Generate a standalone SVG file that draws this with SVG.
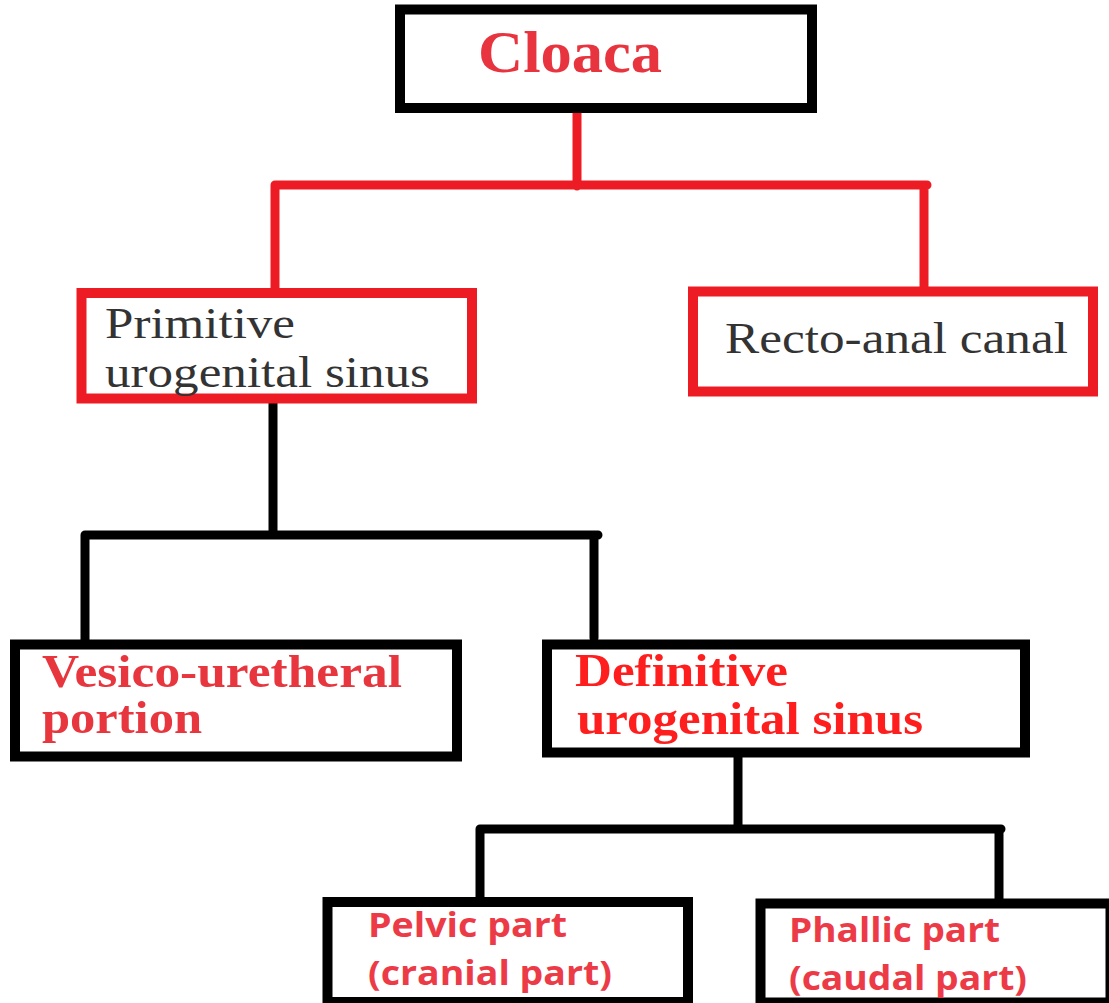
<svg xmlns="http://www.w3.org/2000/svg" width="1109" height="1003" viewBox="0 0 1109 1003">
<style>
.bk{fill:#fff;stroke:#000;stroke-width:10}
.rd{fill:#fff;stroke:#ed1c24;stroke-width:10}
.cr{fill:none;stroke:#ed1c24;stroke-width:9;stroke-linecap:round;stroke-linejoin:round}
.cb{fill:none;stroke:#000;stroke-width:9;stroke-linecap:round;stroke-linejoin:round}
.serif{font-family:"Liberation Serif","Times New Roman",serif}
.sans{font-family:"Open Sans","Liberation Sans",Arial,sans-serif;font-weight:700}
.gray{fill:#333}
.bold{font-weight:700}
</style>
<rect width="1109" height="1003" fill="#fff"/>
<g id="connectors">
<path class="cr" d="M577 113V186M275 292V185H927M924 185V293"/>
<path class="cb" d="M273 403V535M85 640V535H598M594 535V638"/>
<path class="cb" d="M738 757V829M480 905V829H1001M999 829V899"/>
</g>
<g id="cloaca">
<rect class="bk" x="400" y="9.5" width="412" height="98.5"/>
<text class="serif bold" x="478" y="72" font-size="60" fill="#e8343f" textLength="184" lengthAdjust="spacingAndGlyphs">Cloaca</text>
</g>
<g id="primitive">
<rect class="rd" x="81.5" y="293" width="390.5" height="105.5"/>
<text class="serif gray" font-size="44"><tspan x="105" y="338" textLength="190" lengthAdjust="spacingAndGlyphs">Primitive</tspan><tspan x="105" y="387" textLength="325" lengthAdjust="spacingAndGlyphs">urogenital sinus</tspan></text>
</g>
<g id="recto">
<rect class="rd" x="693" y="291.5" width="400" height="100"/>
<text class="serif gray" x="725" y="353" font-size="44" textLength="343" lengthAdjust="spacingAndGlyphs">Recto-anal canal</text>
</g>
<g id="vesico">
<rect class="bk" x="15" y="644.5" width="442" height="112"/>
<text class="serif bold" font-size="46" fill="#e8363f"><tspan x="42" y="687" textLength="360" lengthAdjust="spacingAndGlyphs">Vesico-uretheral</tspan><tspan x="42" y="733" textLength="160" lengthAdjust="spacingAndGlyphs">portion</tspan></text>
</g>
<g id="definitive">
<rect class="bk" x="547" y="644.5" width="478" height="108"/>
<text class="serif bold" font-size="46" fill="#ff1e1e"><tspan x="575" y="686" textLength="213" lengthAdjust="spacingAndGlyphs">Definitive</tspan><tspan x="577" y="734" textLength="346" lengthAdjust="spacingAndGlyphs">urogenital sinus</tspan></text>
</g>
<g id="pelvic">
<rect class="bk" x="327.5" y="902" width="360.5" height="100"/>
<text class="sans" font-size="34" fill="#ec3b47"><tspan x="368" y="937" textLength="199" lengthAdjust="spacingAndGlyphs">Pelvic part</tspan><tspan x="368" y="985" textLength="244" lengthAdjust="spacingAndGlyphs">(cranial part)</tspan></text>
</g>
<g id="phallic">
<rect class="bk" x="760.5" y="903.5" width="350" height="99"/>
<text class="sans" font-size="34" fill="#ec3b47"><tspan x="789" y="942" textLength="211" lengthAdjust="spacingAndGlyphs">Phallic part</tspan><tspan x="789" y="990" textLength="238" lengthAdjust="spacingAndGlyphs">(caudal part)</tspan></text>
</g>
</svg>
